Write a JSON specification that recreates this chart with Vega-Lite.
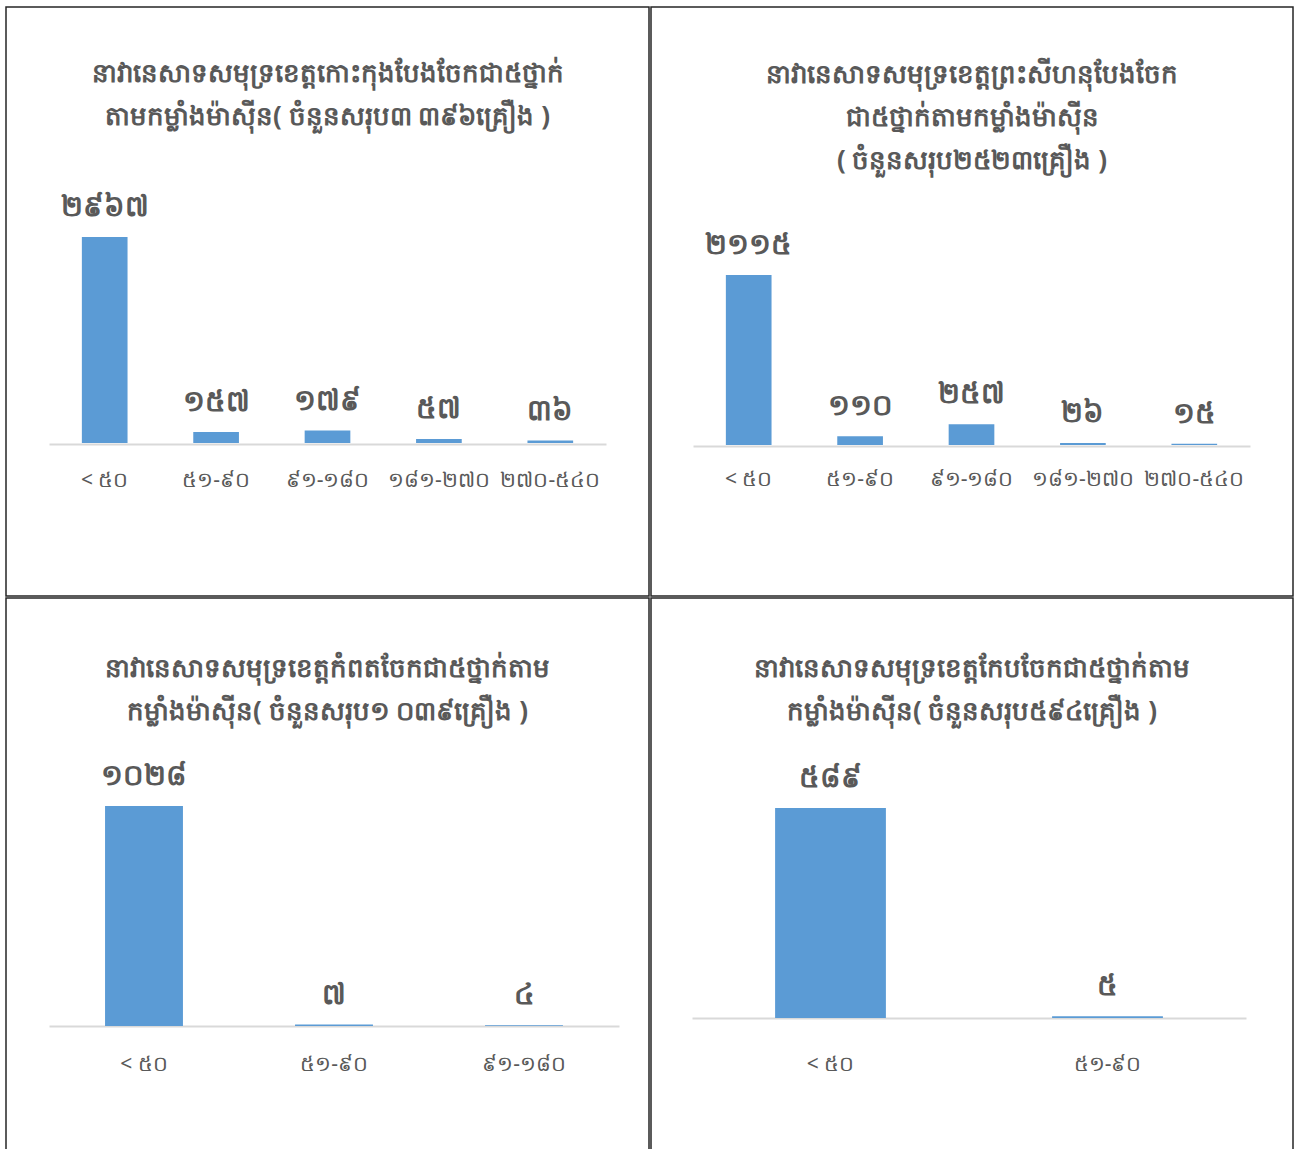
{
  "$schema": "https://vega.github.io/schema/vega-lite/v6.json",
  "padding": {"left": 5, "top": 6, "right": 0, "bottom": 0},
  "background": "white",
  "spacing": 0,
  "datasets": {
    "kohkong": [
      {"class": "< ៥០", "count": 2967, "label": "២៩៦៧"},
      {"class": "៥១-៩០", "count": 157, "label": "១៥៧"},
      {"class": "៩១-១៨០", "count": 179, "label": "១៧៩"},
      {"class": "១៨១-២៧០", "count": 57, "label": "៥៧"},
      {"class": "២៧០-៥៤០", "count": 36, "label": "៣៦"}
    ],
    "sihanouk": [
      {"class": "< ៥០", "count": 2115, "label": "២១១៥"},
      {"class": "៥១-៩០", "count": 110, "label": "១១០"},
      {"class": "៩១-១៨០", "count": 257, "label": "២៥៧"},
      {"class": "១៨១-២៧០", "count": 26, "label": "២៦"},
      {"class": "២៧០-៥៤០", "count": 15, "label": "១៥"}
    ],
    "kampot": [
      {"class": "< ៥០", "count": 1028, "label": "១០២៨"},
      {"class": "៥១-៩០", "count": 7, "label": "៧"},
      {"class": "៩១-១៨០", "count": 4, "label": "៤"}
    ],
    "kep": [
      {"class": "< ៥០", "count": 589, "label": "៥៨៩"},
      {"class": "៥១-៩០", "count": 5, "label": "៥"}
    ]
  },
  "vconcat": [
    {
      "hconcat": [
        {
          "width": 643, "height": 589,
          "title": {"text": ["នាវានេសាទសមុទ្រខេត្តកោះកុងបែងចែកជា៥ថ្នាក់", "តាមកម្លាំងម៉ាស៊ីន( ចំនួនសរុប៣ ៣៩៦គ្រឿង )"], "offset": -123},
          "data": {"name": "kohkong"},
          "encoding": {
            "x": {"field": "class", "type": "nominal", "sort": null, "title": null,
                  "scale": {"range": [43, 600], "paddingInner": 0.59, "paddingOuter": 0.295},
                  "axis": {"offset": -152, "labelPadding": 25}},
            "y": {"field": "count", "type": "quantitative", "axis": null,
                  "scale": {"domain": [0, 2967], "range": [436, 230], "nice": false}}
          },
          "layer": [
            {"mark": {"type": "bar", "color": "#5B9BD5"}},
            {"mark": {"type": "text", "baseline": "bottom", "dy": -15, "fontSize": 29, "fontWeight": "bold", "color": "#595959"},
             "encoding": {"text": {"field": "label"}}}
          ]
        },
        {
          "width": 642, "height": 589,
          "title": {"text": ["នាវានេសាទសមុទ្រខេត្តព្រះសីហនុបែងចែក", "ជា៥ថ្នាក់តាមកម្លាំងម៉ាស៊ីន", "( ចំនួនសរុប២៥២៣គ្រឿង )"], "offset": -167},
          "data": {"name": "sihanouk"},
          "encoding": {
            "x": {"field": "class", "type": "nominal", "sort": null, "title": null,
                  "scale": {"range": [42, 599], "paddingInner": 0.59, "paddingOuter": 0.295},
                  "axis": {"offset": -150, "labelPadding": 22}},
            "y": {"field": "count", "type": "quantitative", "axis": null,
                  "scale": {"domain": [0, 2115], "range": [438, 268], "nice": false}}
          },
          "layer": [
            {"mark": {"type": "bar", "color": "#5B9BD5"}},
            {"mark": {"type": "text", "baseline": "bottom", "dy": -15, "fontSize": 29, "fontWeight": "bold", "color": "#595959"},
             "encoding": {"text": {"field": "label"}}}
          ]
        }
      ]
    },
    {
      "hconcat": [
        {
          "width": 643, "height": 589,
          "title": {"text": ["នាវានេសាទសមុទ្រខេត្តកំពតចែកជា៥ថ្នាក់តាម", "កម្លាំងម៉ាស៊ីន( ចំនួនសរុប១ ០៣៩គ្រឿង )"], "offset": -127},
          "data": {"name": "kampot"},
          "encoding": {
            "x": {"field": "class", "type": "nominal", "sort": null, "title": null,
                  "scale": {"range": [43, 613], "paddingInner": 0.59, "paddingOuter": 0.295},
                  "axis": {"offset": -161, "labelPadding": 27}},
            "y": {"field": "count", "type": "quantitative", "axis": null,
                  "scale": {"domain": [0, 1028], "range": [428, 208], "nice": false}}
          },
          "layer": [
            {"mark": {"type": "bar", "color": "#5B9BD5"}},
            {"mark": {"type": "text", "baseline": "bottom", "dy": -15, "fontSize": 29, "fontWeight": "bold", "color": "#595959"},
             "encoding": {"text": {"field": "label"}}}
          ]
        },
        {
          "width": 642, "height": 589,
          "title": {"text": ["នាវានេសាទសមុទ្រខេត្តកែបចែកជា៥ថ្នាក់តាម", "កម្លាំងម៉ាស៊ីន( ចំនួនសរុប៥៩៤គ្រឿង )"], "offset": -127},
          "data": {"name": "kep"},
          "encoding": {
            "x": {"field": "class", "type": "nominal", "sort": null, "title": null,
                  "scale": {"range": [41, 595], "paddingInner": 0.6, "paddingOuter": 0.3},
                  "axis": {"offset": -169, "labelPadding": 35}},
            "y": {"field": "count", "type": "quantitative", "axis": null,
                  "scale": {"domain": [0, 589], "range": [420, 210], "nice": false}}
          },
          "layer": [
            {"mark": {"type": "bar", "color": "#5B9BD5"}},
            {"mark": {"type": "text", "baseline": "bottom", "dy": -15, "fontSize": 29, "fontWeight": "bold", "color": "#595959"},
             "encoding": {"text": {"field": "label"}}}
          ]
        }
      ]
    }
  ],
  "config": {
    "font": "Noto Sans",
    "view": {"stroke": "#262626", "strokeWidth": 1.5},
    "concat": {"spacing": 0},
    "title": {"anchor": "middle", "frame": "group", "fontSize": 26, "fontWeight": "bold", "color": "#595959", "lineHeight": 43, "font": "Noto Sans"},
    "axisX": {"domainColor": "#D9D9D9", "domainWidth": 2, "ticks": false, "labelAngle": 0, "labelFontSize": 21, "labelColor": "#595959", "labelPadding": 24, "labelFont": "Noto Sans", "grid": false}
  }
}
